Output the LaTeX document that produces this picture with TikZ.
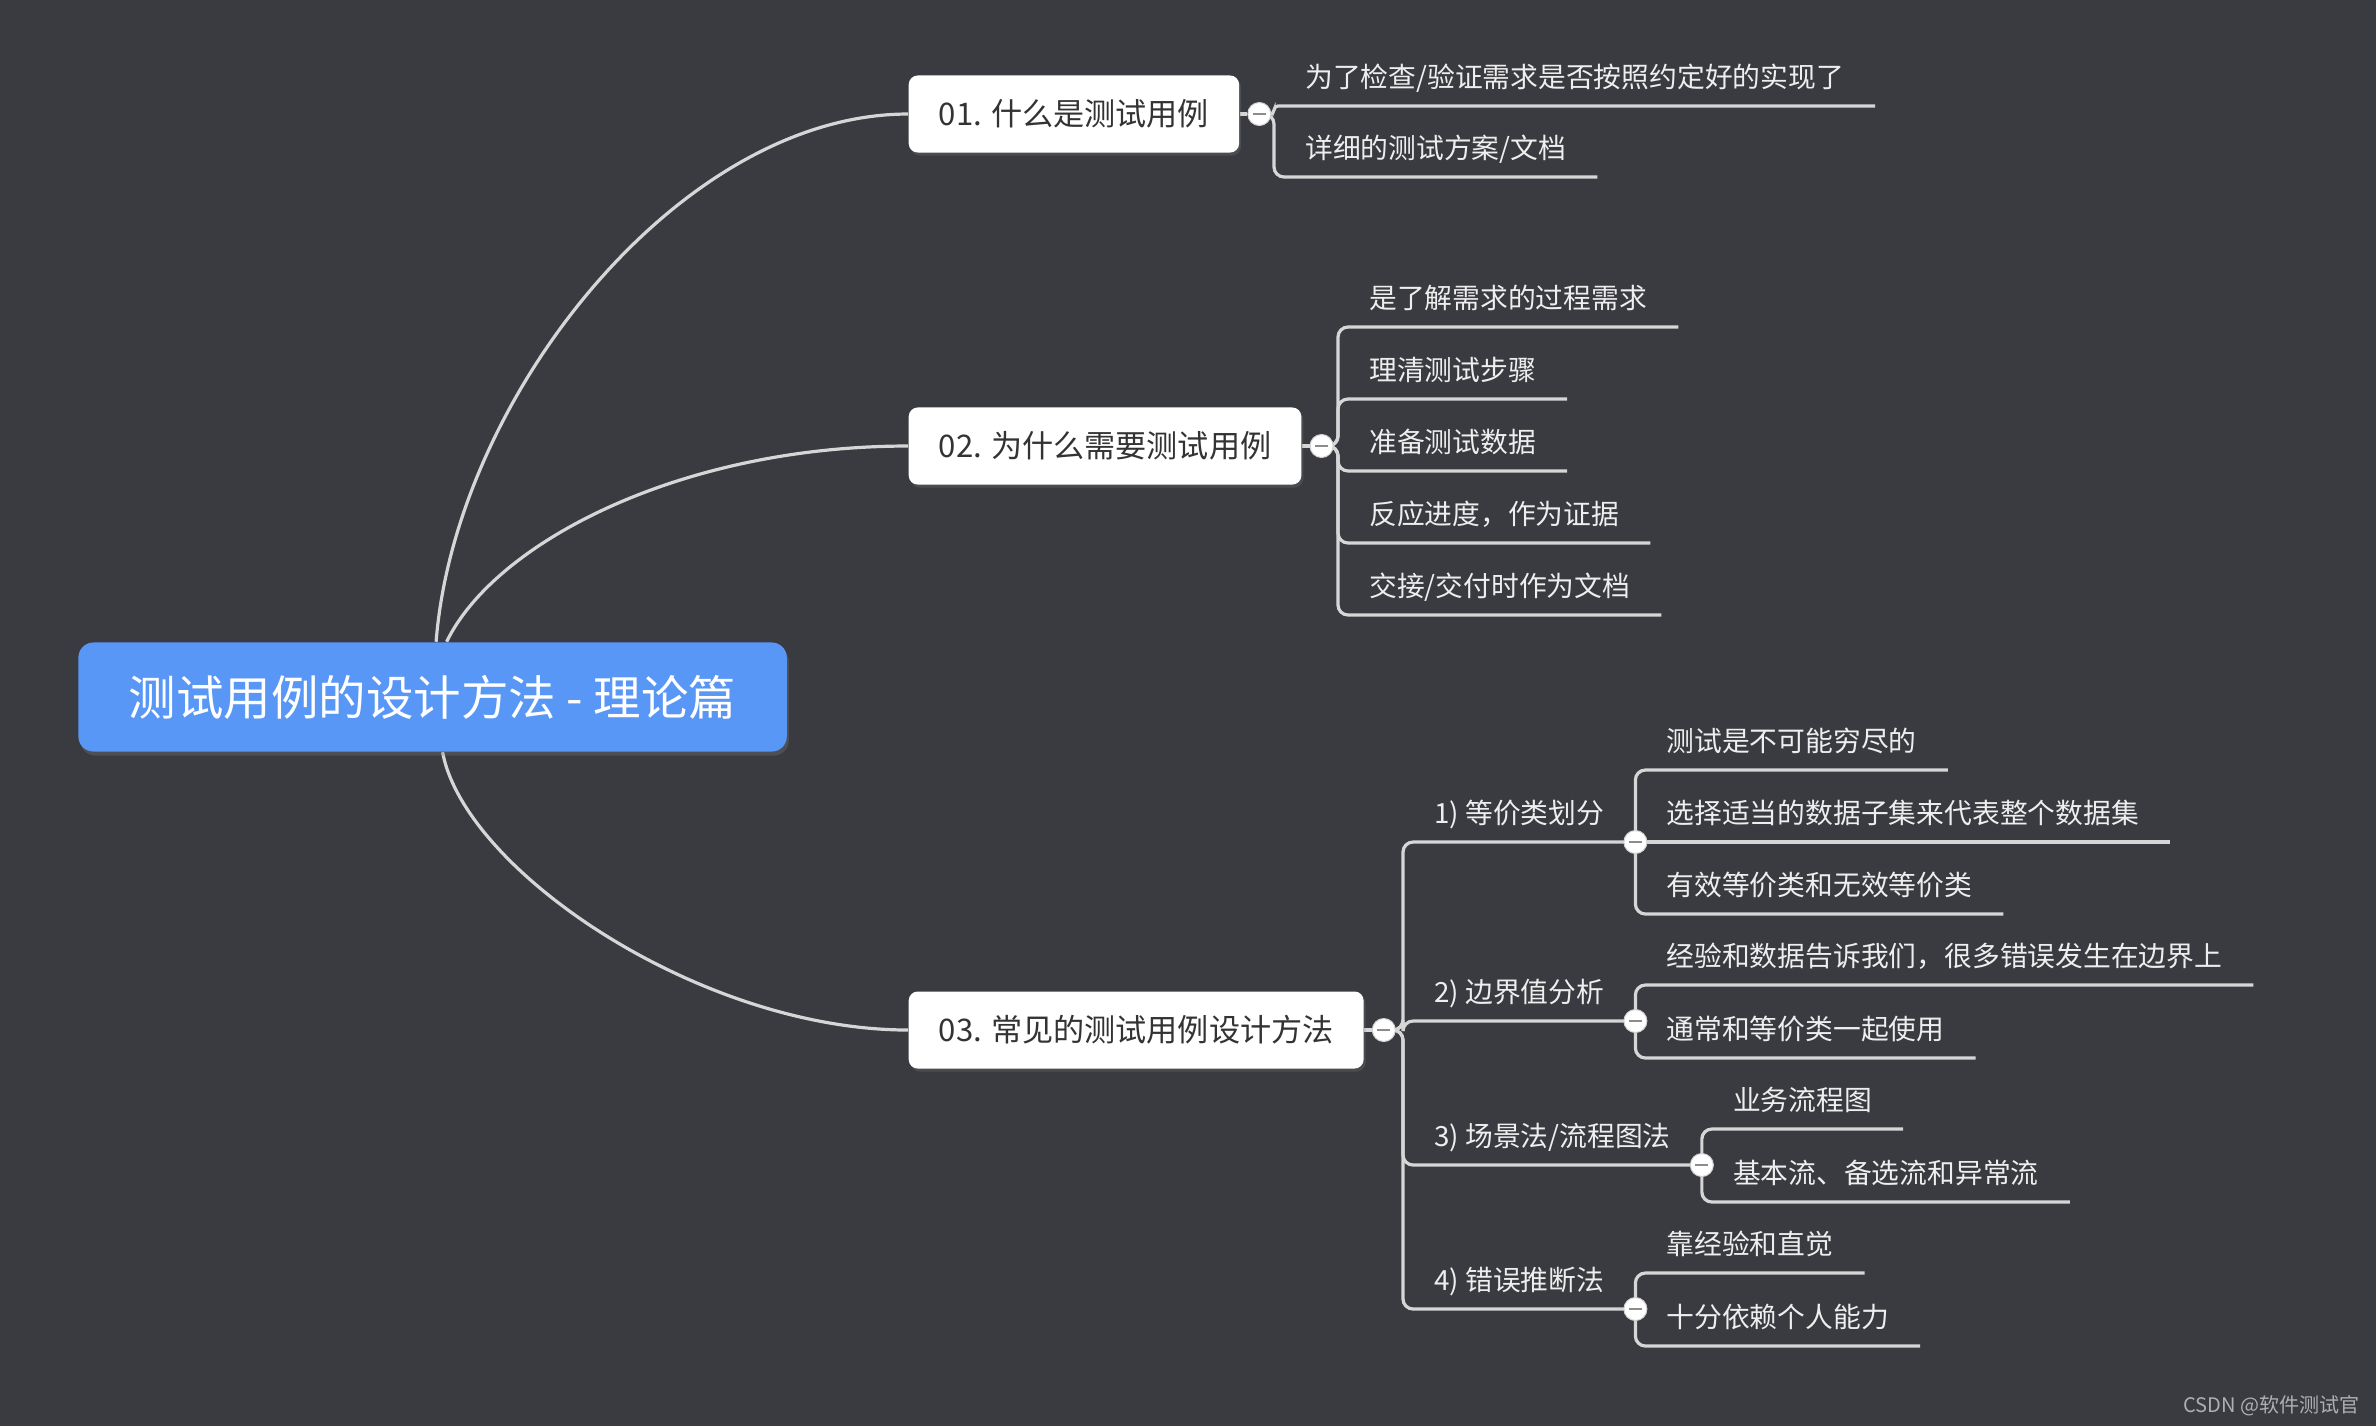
\documentclass[tikz,border=0pt]{standalone}
\usepackage{fontspec}
\setmainfont{Noto Sans CJK SC}
\usepackage{tikz}
\usetikzlibrary{positioning,calc,shadows}
\definecolor{bgdark}{RGB}{58,59,64}
\definecolor{rootblue}{RGB}{89,151,246}
\definecolor{wiregrey}{RGB}{214,214,214}
\definecolor{topictext}{RGB}{51,51,51}
\definecolor{leaftext}{RGB}{238,238,238}
\definecolor{minusgrey}{RGB}{140,140,140}
\definecolor{footgrey}{RGB}{175,175,178}
\pgfdeclarelayer{backdrop}
\pgfdeclarelayer{wires}
\pgfsetlayers{backdrop,wires,main}

\begin{document}
\begin{tikzpicture}[x=0.01cm, y=-0.01cm,
    rootbox/.style={fill=rootblue, rounded corners=0.15cm, minimum width=7.08cm, minimum height=1.09cm,
        text=white, font=\fontsize{13.5}{16}\selectfont, drop shadow={opacity=0.3, shadow xshift=0.02cm, shadow yshift=-0.04cm}},
    topicbox/.style={fill=white, rounded corners=0.09cm, minimum height=0.77cm, inner xsep=0.3cm,
        anchor=west, text=topictext, font=\fontsize{8.85}{11}\selectfont, drop shadow={opacity=0.25, shadow xshift=0.02cm, shadow yshift=-0.03cm}},
    leaf/.style={anchor=south west, inner xsep=0.305cm, inner ysep=0pt, text height=0.3cm, text depth=0.18cm,
        text=leaftext, font=\fontsize{7.9}{10}\selectfont},
    knob/.style={circle, fill=white, draw=minusgrey!40, line width=0.01cm, minimum size=0.23cm, inner sep=0pt,
        path picture={\draw[minusgrey, line width=0.025cm]
            ([xshift=-0.065cm]path picture bounding box.center) -- ([xshift=0.065cm]path picture bounding box.center);}},
    branch/.style={draw=wiregrey, line width=0.032cm, rounded corners=0.1cm},
    stem/.style={draw=wiregrey, line width=0.032cm},
]
    \begin{pgfonlayer}{backdrop}
        \fill[bgdark] (0,0) rectangle (2376,1426);
    \end{pgfonlayer}
    \useasboundingbox (0,0) rectangle (2376,1426);

    % root and main topics
    \node[rootbox] (root) at (432.6,697) {测试用例的设计方法 - 理论篇};
    \node[topicbox] (t1) at (908,114) {01. 什么是测试用例};
    \node[topicbox] (t2) at (908,446) {02. 为什么需要测试用例};
    \node[topicbox] (t3) at (908,1030) {03. 常见的测试用例设计方法};
    \node[knob, right=0.075cm of t1] (k1) {};
    \node[knob, right=0.075cm of t2] (k2) {};
    \node[knob, right=0.075cm of t3] (k3) {};

    % 01
    \node[leaf] (l11) at (1274,106) {为了检查/验证需求是否按照约定好的实现了};
    \node[leaf] (l12) at (1274,177) {详细的测试方案/文档};

    % 02
    \foreach \txt [count=\i] in {是了解需求的过程需求, 理清测试步骤, 准备测试数据, 反应进度，作为证据, 交接/交付时作为文档}
        \node[leaf] (l2\i) at (1338,{255+72*\i}) {\txt};

    % 03
    \node[leaf] (s1) at (1403,842) {1) 等价类划分};
    \node[leaf] (s2) at (1403,1021) {2) 边界值分析};
    \node[leaf] (s3) at (1403,1165) {3) 场景法/流程图法};
    \node[leaf] (s4) at (1403,1309) {4) 错误推断法};
    \node[knob] (k31) at (s1.south east) {};
    \node[knob] (k32) at (s2.south east) {};
    \node[knob] (k33) at (s3.south east) {};
    \node[knob] (k34) at (s4.south east) {};

    \node[leaf] (l31) at ($(k31)+(0,-72)$) {测试是不可能穷尽的};
    \node[leaf] (l32) at (k31) {选择适当的数据子集来代表整个数据集};
    \node[leaf] (l33) at ($(k31)+(0,72)$) {有效等价类和无效等价类};
    \node[leaf] (l41) at ($(k32)+(0,-36)$) {经验和数据告诉我们，很多错误发生在边界上};
    \node[leaf] (l42) at ($(k32)+(0,37)$) {通常和等价类一起使用};
    \node[leaf] (l51) at ($(k33)+(0,-36)$) {业务流程图};
    \node[leaf] (l52) at ($(k33)+(0,37)$) {基本流、备选流和异常流};
    \node[leaf] (l61) at ($(k34)+(0,-36)$) {靠经验和直觉};
    \node[leaf] (l62) at ($(k34)+(0,37)$) {十分依赖个人能力};

    \node[font=\fontsize{5.7}{7}\selectfont, text=footgrey, anchor=east, inner sep=0pt] (mark) at (2360,1406) {CSDN @软件测试官};

    \begin{pgfonlayer}{wires}
        % root curves
        \draw[stem] ([xshift=0.035cm]root.north) .. controls +(19,-244) and +(-228,0) .. (t1.west);
        \draw[stem] ([xshift=0.14cm]root.north) .. controls +(48,-99) and +(-228,0) .. (t2.west);
        \draw[stem] ([xshift=0.1cm]root.south) .. controls +(22,118) and +(-208,0) .. (t3.west);
        \draw[stem] (t1.east) -- (k1);
        \draw[stem] (t2.east) -- (k2);
        \draw[stem] (t3.east) -- (k3);

        \draw[branch, rounded corners=0.04cm] (k1.center) -- (k1 -| l11.south west) -- (l11.south west) -- (l11.south east);
        \draw[branch] (k1.center) -- (k1 -| l12.south west) -- (l12.south west) -- (l12.south east);
        \foreach \i in {1,...,5}
            \draw[branch] (k2.center) -- (k2 -| l2\i.south west) -- (l2\i.south west) -- (l2\i.south east);
        \foreach \i in {1,...,4}
            \draw[branch] (k3.center) -- (k3 -| s\i.south west) -- (s\i.south west) -- (k3\i.center);

        \draw[branch] (k31.center) -- (l31.south west) -- (l31.south east);
        \draw[stem] (k31.center) -- (l32.south east);
        \draw[branch] (k31.center) -- (l33.south west) -- (l33.south east);
        \draw[branch] (k32.center) -- (l41.south west) -- (l41.south east);
        \draw[branch] (k32.center) -- (l42.south west) -- (l42.south east);
        \draw[branch] (k33.center) -- (l51.south west) -- (l51.south east);
        \draw[branch] (k33.center) -- (l52.south west) -- (l52.south east);
        \draw[branch] (k34.center) -- (l61.south west) -- (l61.south east);
        \draw[branch] (k34.center) -- (l62.south west) -- (l62.south east);
    \end{pgfonlayer}
\end{tikzpicture}
\end{document}
